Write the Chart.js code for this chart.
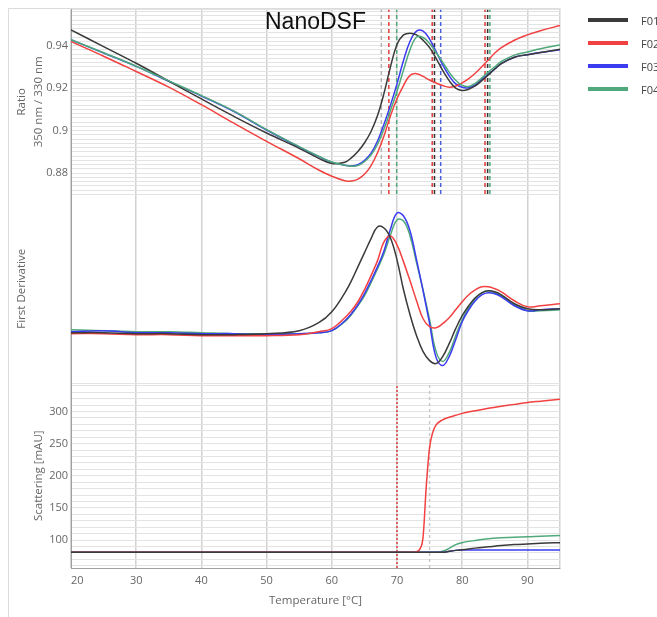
<!DOCTYPE html>
<html>
<head>
<meta charset="utf-8">
<title>NanoDSF</title>
<script src="https://cdn.jsdelivr.net/npm/chart.js@4.4.0/dist/chart.umd.min.js"></script>
<style>
  html, body { margin: 0; padding: 0; background: #fff; }
  #wrap { position: relative; width: 657px; height: 617px; overflow: hidden; }
  #frame { position: absolute; left: 8px; top: 8px; width: 552px; height: 640px;
           border-left: 1px solid #dcdcdc; border-top: 1px solid #dcdcdc; }
  #dsfChart { position: absolute; left: 0; top: 0; }
  #legend { position: absolute; left: 588px; top: 8.5px; font: 11px 'Open Sans', sans-serif; color: #444; }
  #legend .item { height: 23px; display: flex; align-items: center; white-space: nowrap; }
  #legend .line { display: inline-block; width: 40px; height: 3.5px; margin-right: 13px; }
</style>
</head>
<body>
<div id="wrap">
  <div id="frame"></div>
  <canvas id="dsfChart" width="657" height="617"></canvas>
  <div id="legend"></div>
</div>
<script>
// Sample names and temperatures
const seriesNames = ['F01', 'F02', 'F03', 'F04'];
const temps = [20, 25, 30, 35, 40, 45, 50, 55, 58, 60, 62, 63, 64, 65, 66, 67, 68, 69, 70,
               71, 72, 73, 74, 75, 76, 77, 78, 79, 80, 81, 82, 83, 84, 85, 86, 88, 90, 92, 95];

// Ratio 350 nm / 330 nm
const ratioF01 = [0.9474, 0.9395, 0.9317, 0.9233, 0.9149, 0.9067, 0.8989, 0.8917, 0.8870, 0.8846, 0.8852, 0.8872, 0.8902, 0.8942, 0.8995, 0.9070, 0.9175, 0.9300, 0.9405,
                  0.9450, 0.9458, 0.9450, 0.9425, 0.9390, 0.9340, 0.9283, 0.9235, 0.9200, 0.9189, 0.9195, 0.9210, 0.9235, 0.9262, 0.9290, 0.9315, 0.9345, 0.9357, 0.9367, 0.9383];
const ratioF02 = [0.9419, 0.9350, 0.9278, 0.9205, 0.9122, 0.9035, 0.8950, 0.8868, 0.8815, 0.8786, 0.8765, 0.8763, 0.8772, 0.8795, 0.8835, 0.8895, 0.8975, 0.9070, 0.9150,
                  0.9212, 0.9260, 0.9268, 0.9255, 0.9238, 0.9224, 0.9212, 0.9204, 0.9210, 0.9225, 0.9245, 0.9270, 0.9300, 0.9332, 0.9365, 0.9390, 0.9425, 0.9450, 0.9470, 0.9494];
const ratioF03 = [0.9427, 0.9365, 0.9302, 0.9232, 0.9163, 0.9090, 0.9003, 0.8923, 0.8878, 0.8852, 0.8837, 0.8834, 0.8840, 0.8860, 0.8893, 0.8950, 0.9030, 0.9120, 0.9220,
                  0.9330, 0.9420, 0.9468, 0.9468, 0.9430, 0.9372, 0.9310, 0.9258, 0.9220, 0.9204, 0.9202, 0.9215, 0.9240, 0.9265, 0.9290, 0.9315, 0.9345, 0.9357, 0.9367, 0.9380];
const ratioF04 = [0.9427, 0.9366, 0.9303, 0.9234, 0.9165, 0.9092, 0.9005, 0.8925, 0.8880, 0.8853, 0.8838, 0.8833, 0.8836, 0.8854, 0.8885, 0.8935, 0.9008, 0.9095, 0.9185,
                  0.9285, 0.9380, 0.9440, 0.9438, 0.9410, 0.9366, 0.9322, 0.9275, 0.9237, 0.9213, 0.9208, 0.9222, 0.9248, 0.9275, 0.9300, 0.9325, 0.9355, 0.9370, 0.9385, 0.9403];

// First derivative (arbitrary units)
const derivF01 = [0.1, 0.1, 0.0, 0.0, -0.1, -0.1, 0.0, 0.3, 1.1, 2.2, 4.1, 5.3, 6.7, 8.1, 9.5, 10.7, 10.6, 9.6, 7.4,
                  4.4, 1.9, -0.2, -1.8, -2.7, -3.0, -2.3, -1.0, 0.5, 1.8, 2.8, 3.6, 4.1, 4.3, 4.2, 3.9, 3.0, 2.5, 2.4, 2.5];
const derivF02 = [0.0, 0.0, -0.1, -0.1, -0.2, -0.2, -0.2, -0.1, 0.2, 0.5, 1.6, 2.3, 3.2, 4.4, 5.8, 7.3, 9.2, 9.8, 8.9,
                  7.2, 5.3, 3.3, 1.5, 0.7, 0.6, 1.0, 1.6, 2.4, 3.2, 3.9, 4.4, 4.7, 4.7, 4.5, 4.2, 3.3, 2.7, 2.8, 3.0];
const derivF03 = [0.2, 0.3, 0.1, 0.1, 0.0, 0.0, -0.1, 0.0, 0.1, 0.3, 1.3, 2.0, 2.9, 4.0, 5.3, 6.7, 8.3, 10.5, 12.1,
                  11.8, 10.3, 7.4, 4.3, 1.0, -2.4, -3.2, -2.3, -0.6, 1.2, 2.4, 3.3, 3.9, 4.1, 4.0, 3.7, 2.8, 2.3, 2.4, 2.5];
const derivF04 = [0.4, 0.3, 0.2, 0.2, 0.1, 0.0, 0.0, 0.0, 0.1, 0.3, 1.2, 1.9, 2.8, 3.8, 5.1, 6.5, 8.0, 9.9, 11.4,
                  11.3, 9.8, 7.1, 4.4, 1.4, -1.8, -2.8, -1.9, -0.2, 1.4, 2.6, 3.5, 4.1, 4.3, 4.1, 3.8, 2.9, 2.3, 2.3, 2.4];

// Scattering [mAU]
const scatterTemps = [20, 40, 60, 70, 72, 73, 73.5, 74, 74.5, 75, 75.5, 76, 77, 78, 79, 80, 82, 84, 86, 88, 90, 92, 95];
const scatterF01 = [81, 81, 81, 81, 81, 81, 81, 81, 81, 81, 81, 81, 81, 82.5, 84, 85, 87.5, 89.5, 91.5, 93, 94, 95, 96];
const scatterF02 = [81, 81, 81, 81, 81, 82, 86, 105, 185, 244, 268, 279, 287, 291, 294, 297, 301, 305, 308, 311, 314, 316, 319];
const scatterF03 = [81, 81, 81, 81, 81, 81, 81, 81, 81, 81, 81, 81, 81, 82.5, 84, 84.5, 84.5, 84.5, 84.5, 84.5, 84.5, 84.5, 84.5];
const scatterF04 = [81, 81, 81, 81, 81, 81, 81, 81, 81, 81, 81, 81, 82.5, 87, 93, 96, 99.5, 102, 103.5, 104.5, 105, 106, 107];

// Transition markers (Tm / onset)
const ratioMarkerTemps = [67.6, 68.75, 69.95, 75.4, 75.75, 76.7, 83.5, 83.9, 84.25];
const scatterMarkerTemps = [70, 75];

// Axis ranges
const ratioRange = [0.8702, 0.9569];
const derivRange = [-5, 14];
const scatterRange = [56.6, 343.4];

// styles
const seriesColors = ['#3a3a3a', '#f24141', '#3b3bef', '#4fa97b'];
const ratioMarkerColors = ['#b4b4b4', '#e23b3b', '#4fa97b', '#e23b3b', '#333333', '#4a60d8', '#e23b3b', '#333333', '#4fa97b'];
const scatterMarkerColors = ['#e23b3b', '#c8c8c8'];
const scatterMarkerDash = [[2, 2], [3, 3]];

Chart.defaults.font.family = "'Open Sans', sans-serif";
Chart.defaults.color = '#666';

function points(xs, ys) {
    return xs.map(function(x, i) { return { x: x, y: ys[i] }; });
}

function curve(name, xs, ys, axis, color, smooth, order) {
    var ds = {
        label: name,
        data: points(xs, ys),
        yAxisID: axis,
        borderColor: color,
        backgroundColor: color,
        borderWidth: 1.5,
        pointRadius: 0,
        order: order
    };
    if (smooth) {
        ds.tension = 0.4;
    } else {
        ds.cubicInterpolationMode = 'monotone';
    }
    return ds;
}

function marker(x, axis, range, color, dash) {
    return {
        label: 'marker',
        data: [{ x: x, y: range[0] }, { x: x, y: range[1] }],
        yAxisID: axis,
        borderColor: color,
        borderWidth: 1.5,
        borderDash: dash,
        pointRadius: 0,
        order: 1
    };
}

var ratioSeries = [ratioF01, ratioF02, ratioF03, ratioF04];
var derivSeries = [derivF01, derivF02, derivF03, derivF04];
var scatterSeries = [scatterF01, scatterF02, scatterF03, scatterF04];

var datasets = [];
seriesNames.forEach(function(name, i) {
    // green sits above blue in the ratio panel
    datasets.push(curve(name, temps, ratioSeries[i], 'yRatio', seriesColors[i], true, i === 3 ? -1 : 0));
    datasets.push(curve(name, temps, derivSeries[i], 'yDeriv', seriesColors[i], true, 0));
    datasets.push(curve(name, scatterTemps, scatterSeries[i], 'yScatter', seriesColors[i], false, 0));
});
ratioMarkerTemps.forEach(function(t, i) {
    datasets.push(marker(t, 'yRatio', ratioRange, ratioMarkerColors[i], [4, 3]));
});
scatterMarkerTemps.forEach(function(t, i) {
    datasets.push(marker(t, 'yScatter', scatterRange, scatterMarkerColors[i], scatterMarkerDash[i]));
});

// legend
var legendBox = document.getElementById('legend');
seriesNames.forEach(function(name, i) {
    var row = document.createElement('div');
    row.className = 'item';
    row.innerHTML = '<span class="line" style="background:' + seriesColors[i] + '"></span>' + name;
    legendBox.appendChild(row);
});

var tickFont = { size: 11 };
var titleFont = { size: 11.5, lineHeight: 1.45 };

function addBounds(axis) {
    axis.ticks.unshift({ value: axis.min });
    axis.ticks.push({ value: axis.max });
}

var overlayTitle = {
    id: 'overlayTitle',
    afterDraw: function(chart) {
        var ctx = chart.ctx, area = chart.chartArea;
        ctx.save();
        ctx.font = '23px "Liberation Sans", Arial, sans-serif';
        ctx.fillStyle = '#111';
        ctx.textAlign = 'center';
        ctx.textBaseline = 'alphabetic';
        ctx.fillText('NanoDSF', (area.left + area.right) / 2, 29);
        ctx.restore();
    }
};

var dsfChart = new Chart(document.getElementById('dsfChart'), {
    type: 'line',
    data: { datasets: datasets },
    plugins: [overlayTitle],
    options: {
        responsive: false,
        animation: false,
        layout: { padding: { top: 8, right: 97, left: 0, bottom: 0 } },
        plugins: { legend: { display: false }, tooltip: { enabled: false } },
        scales: {
            x: {
                type: 'linear',
                min: 20,
                max: 95,
                afterBuildTicks: function(axis) { axis.ticks.push({ value: 95 }); },
                afterFit: function(s) { s.height = 49; },
                ticks: {
                    stepSize: 10,
                    includeBounds: false,
                    align: 'inner',
                    padding: 6,
                    font: tickFont,
                    maxRotation: 0,
                    callback: function(v) { return v === 95 ? '' : v; }
                },
                grid: { color: '#d2d2d2', lineWidth: 1.5, drawTicks: false },
                border: { color: '#a0a0a0' },
                title: { display: true, text: 'Temperature [°C]', font: titleFont, padding: { top: 0, bottom: 7.6 } }
            },
            yScatter: {
                type: 'linear',
                position: 'left',
                stack: 'panels',
                stackWeight: 185,
                min: scatterRange[0],
                max: scatterRange[1],
                afterBuildTicks: addBounds,
                afterFit: function(s) { s.width = 71; },
                ticks: {
                    stepSize: 10,
                    includeBounds: false,
                    autoSkip: false,
                    padding: 3,
                    font: tickFont,
                    callback: function(v) { return v % 50 === 0 ? v : ''; }
                },
                grid: { color: '#e3e3e3', drawTicks: false },
                border: { color: '#a0a0a0' },
                title: { display: true, text: 'Scattering [mAU]', font: titleFont, padding: { top: 30.6, bottom: 0 } }
            },
            yDeriv: {
                type: 'linear',
                position: 'left',
                stack: 'panels',
                stackWeight: 190,
                min: derivRange[0],
                max: derivRange[1],
                afterFit: function(s) { s.width = 71; },
                ticks: { display: false },
                grid: { display: false },
                border: { color: '#a0a0a0' },
                title: { display: true, text: 'First Derivative', font: titleFont, padding: { top: 13.6, bottom: 0 } }
            },
            yRatio: {
                type: 'linear',
                position: 'left',
                stack: 'panels',
                stackWeight: 185,
                min: ratioRange[0],
                max: ratioRange[1],
                afterBuildTicks: addBounds,
                afterFit: function(s) { s.width = 71; },
                ticks: {
                    stepSize: 0.002,
                    includeBounds: false,
                    autoSkip: false,
                    padding: 3,
                    font: tickFont,
                    callback: function(v) {
                        return Math.round(v * 1000) % 20 === 0 ? String(+v.toFixed(2)) : '';
                    }
                },
                grid: { color: '#e3e3e3', drawTicks: false },
                border: { color: '#a0a0a0' },
                title: { display: true, text: ['Ratio', '350 nm / 330 nm'], font: titleFont, padding: { top: 13.6, bottom: 0 } }
            }
        }
    }
});
</script>
</body>
</html>
